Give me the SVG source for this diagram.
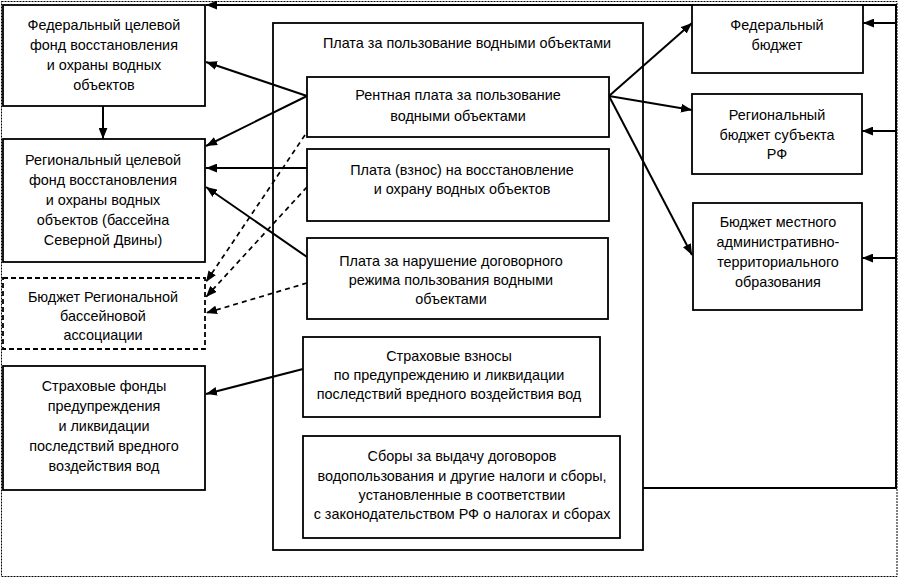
<svg xmlns="http://www.w3.org/2000/svg" width="899" height="579" viewBox="0 0 899 579">
<style>
.box{fill:#fff;stroke:#000;stroke-width:1.8}
.dbox{fill:#fff;stroke:#000;stroke-width:1.8;stroke-dasharray:5 3}
.t{font-family:"Liberation Sans",Arial,sans-serif;font-size:14.4px;fill:#000;text-anchor:middle}
.c{fill:none;stroke:#000;stroke-width:2}
.d{fill:none;stroke:#000;stroke-width:1.7;stroke-dasharray:5 4}
.bus{fill:none;stroke:#000;stroke-width:2}
.frame{fill:none;stroke:#000;stroke-width:1;stroke-dasharray:2 1}
</style>
<defs>
<marker id="ah" viewBox="0 0 10 8" refX="10" refY="4" markerWidth="11" markerHeight="9" markerUnits="userSpaceOnUse" orient="auto">
<path d="M0,0 L10,4 L0,8 z" fill="#000"/>
</marker>
</defs>
<rect fill="#fff" x="0" y="0" width="899" height="579"/>
<rect class="frame" x="1.5" y="1.5" width="895.5" height="575"/>

<g id="main-frame">
<rect class="box" x="273" y="23" width="370" height="527"/>
<text class="t" x="467" y="48">Плата за пользование водными объектами</text>
</g>

<g id="connectors">
<line class="c" x1="103" y1="106" x2="103" y2="139" marker-end="url(#ah)"/>
<line class="c" x1="307" y1="96" x2="206" y2="62" marker-end="url(#ah)"/>
<line class="c" x1="307" y1="96" x2="206" y2="146" marker-end="url(#ah)"/>
<line class="c" x1="307" y1="168" x2="206" y2="168" marker-end="url(#ah)"/>
<line class="c" x1="307" y1="257" x2="206" y2="187" marker-end="url(#ah)"/>
<line class="d" x1="305" y1="135" x2="206" y2="282" marker-end="url(#ah)"/>
<line class="d" x1="307" y1="187" x2="206" y2="297" marker-end="url(#ah)"/>
<line class="d" x1="307" y1="283" x2="206" y2="313" marker-end="url(#ah)"/>
<line class="c" x1="303" y1="369" x2="206" y2="394" marker-end="url(#ah)"/>
<line class="c" x1="609" y1="96" x2="692" y2="23" marker-end="url(#ah)"/>
<line class="c" x1="609" y1="96" x2="692" y2="110" marker-end="url(#ah)"/>
<line class="c" x1="609" y1="96" x2="692" y2="255" marker-end="url(#ah)"/>
<polyline class="bus" points="643,488 896,488 896,5 206,5" marker-end="url(#ah)"/>
<line class="c" x1="896" y1="23" x2="863" y2="23" marker-end="url(#ah)"/>
<line class="c" x1="896" y1="131" x2="862" y2="131" marker-end="url(#ah)"/>
<line class="c" x1="896" y1="258" x2="862" y2="258" marker-end="url(#ah)"/>
</g>

<g id="fed-fund">
<rect class="box" x="3" y="5" width="202" height="101"/>
<text class="t" x="104" y="30">Федеральный целевой</text>
<text class="t" x="104" y="50">фонд восстановления</text>
<text class="t" x="104" y="70">и охраны водных</text>
<text class="t" x="104" y="90">объектов</text>
</g>

<g id="reg-fund">
<rect class="box" x="3" y="139" width="202" height="123"/>
<text class="t" x="103" y="165">Региональный целевой</text>
<text class="t" x="103" y="185">фонд восстановления</text>
<text class="t" x="103" y="205">и охраны водных</text>
<text class="t" x="103" y="225">объектов (бассейна</text>
<text class="t" x="103" y="245">Северной Двины)</text>
</g>

<g id="basin-budget">
<rect class="dbox" x="3" y="278" width="202" height="71"/>
<text class="t" x="103" y="302">Бюджет Региональной</text>
<text class="t" x="103" y="321">бассейновой</text>
<text class="t" x="103" y="340">ассоциации</text>
</g>

<g id="insurance-funds">
<rect class="box" x="3" y="366" width="202" height="124"/>
<text class="t" x="104" y="391">Страховые фонды</text>
<text class="t" x="104" y="411">предупреждения</text>
<text class="t" x="104" y="431">и ликвидации</text>
<text class="t" x="104" y="451">последствий вредного</text>
<text class="t" x="104" y="471">воздействия вод</text>
</g>

<g id="rent">
<rect class="box" x="307" y="77" width="302" height="60"/>
<text class="t" x="458" y="100">Рентная плата за пользование</text>
<text class="t" x="458" y="121">водными объектами</text>
</g>

<g id="vznos">
<rect class="box" x="307" y="149" width="302" height="72"/>
<text class="t" x="462" y="175">Плата (взнос) на восстановление</text>
<text class="t" x="462" y="194">и охрану водных объектов</text>
</g>

<g id="narushenie">
<rect class="box" x="307" y="238" width="301" height="81"/>
<text class="t" x="451" y="266">Плата за нарушение договорного</text>
<text class="t" x="451" y="285">режима пользования водными</text>
<text class="t" x="451" y="304">объектами</text>
</g>

<g id="strakh-vznosy">
<rect class="box" x="303" y="337" width="297" height="80"/>
<text class="t" x="449" y="361">Страховые взносы</text>
<text class="t" x="449" y="380">по предупреждению и ликвидации</text>
<text class="t" x="449" y="399">последствий вредного воздействия вод</text>
</g>

<g id="sbory">
<rect class="box" x="303" y="436" width="317" height="102"/>
<text class="t" x="462" y="461">Сборы за выдачу договоров</text>
<text class="t" x="462" y="481">водопользования и другие налоги и сборы,</text>
<text class="t" x="462" y="500">установленные в соответствии</text>
<text class="t" x="462" y="519">с законодательством РФ о налогах и сборах</text>
</g>

<g id="fed-budget">
<rect class="box" x="692" y="5" width="171" height="68"/>
<text class="t" x="777" y="30">Федеральный</text>
<text class="t" x="777" y="50">бюджет</text>
</g>

<g id="reg-budget">
<rect class="box" x="692" y="94" width="170" height="80"/>
<text class="t" x="777" y="120">Региональный</text>
<text class="t" x="777" y="140">бюджет субъекта</text>
<text class="t" x="777" y="159">РФ</text>
</g>

<g id="local-budget">
<rect class="box" x="693" y="203" width="169" height="107"/>
<text class="t" x="778" y="227">Бюджет местного</text>
<text class="t" x="778" y="247">административно-</text>
<text class="t" x="778" y="267">территориального</text>
<text class="t" x="778" y="287">образования</text>
</g>
</svg>
